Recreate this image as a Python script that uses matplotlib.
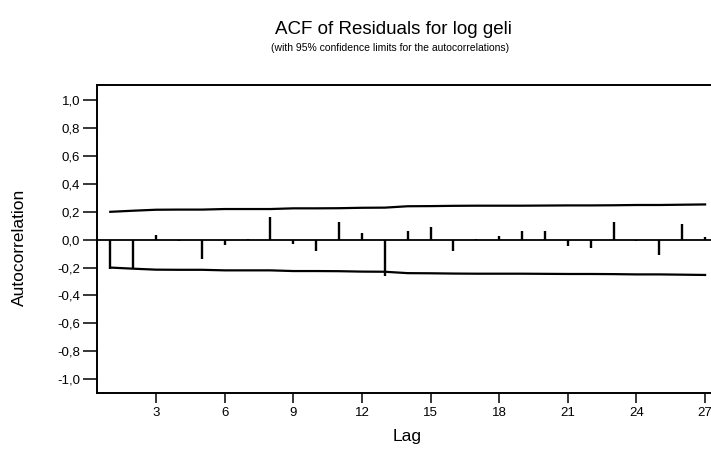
import matplotlib
matplotlib.use("Agg")
import matplotlib.pyplot as plt
from matplotlib.ticker import FuncFormatter

plt.rcParams["font.family"] = ["Liberation Sans", "DejaVu Sans"]

# Residual autocorrelations by lag
lags = list(range(1, 28))
acf = [-0.21, -0.21, 0.034, -0.01, -0.14, -0.04, 0.005, 0.163, -0.03, -0.08,
       0.125, 0.05, -0.26, 0.065, 0.09, -0.08, 0.005, 0.025, 0.065, 0.06,
       -0.045, -0.06, 0.125, -0.01, -0.11, 0.115, 0.02]

# 95% confidence limits per lag
upper = [0.200, 0.208, 0.215, 0.216, 0.216, 0.220, 0.220, 0.220, 0.225, 0.225,
         0.226, 0.229, 0.230, 0.240, 0.241, 0.243, 0.244, 0.244, 0.244, 0.245,
         0.246, 0.246, 0.247, 0.249, 0.249, 0.251, 0.253]
lower = [-u for u in upper]

y_ticks = [-1.0, -0.8, -0.6, -0.4, -0.2, 0.0, 0.2, 0.4, 0.6, 0.8, 1.0]
x_ticks = [3, 6, 9, 12, 15, 18, 21, 24, 27]

W, H = 711, 453
fig = plt.figure(figsize=(W / 100, H / 100), dpi=100)
ax = fig.add_axes([97 / W, 1 - 393 / H, 617 / W, 308 / H])

ax.axhline(0, color="black", lw=1.3, zorder=2)
ax.vlines(lags, 0, acf, color="black", lw=1.7, zorder=3)
ax.plot(lags, upper, color="black", lw=1.6, zorder=3)
ax.plot(lags, lower, color="black", lw=1.6, zorder=3)

ax.set_xlim(0.42, 27.39)
ax.set_ylim(-1.10, 1.11)
ax.set_yticks(y_ticks)
ax.set_xticks(x_ticks)
ax.yaxis.set_major_formatter(FuncFormatter(lambda v, p: f"{v:.1f}".replace(".", ",")))

for side in ["left", "bottom", "top", "right"]:
    ax.spines[side].set_linewidth(1.4)
ax.tick_params(axis="y", direction="out", length=10, width=1.1,
               labelsize=9.5, colors="black", pad=2)
ax.tick_params(axis="x", direction="out", length=7, width=1.1,
               labelsize=9.5, colors="black", pad=3)

ax.set_xlabel("Lag", fontsize=12.5)
ax.xaxis.set_label_coords(0.502, -0.117)
ax.set_ylabel("Autocorrelation", fontsize=12.5)
ax.yaxis.set_label_coords(-0.113, 0.474)

fig.text(393 / W, 1 - 30 / H, "ACF of Residuals for log geli",
         ha="center", va="center", fontsize=13.5)
fig.text(390 / W, 1 - 48 / H, "(with 95% confidence limits for the autocorrelations)",
         ha="center", va="center", fontsize=7.5)

fig.savefig("out.png", dpi=100)
